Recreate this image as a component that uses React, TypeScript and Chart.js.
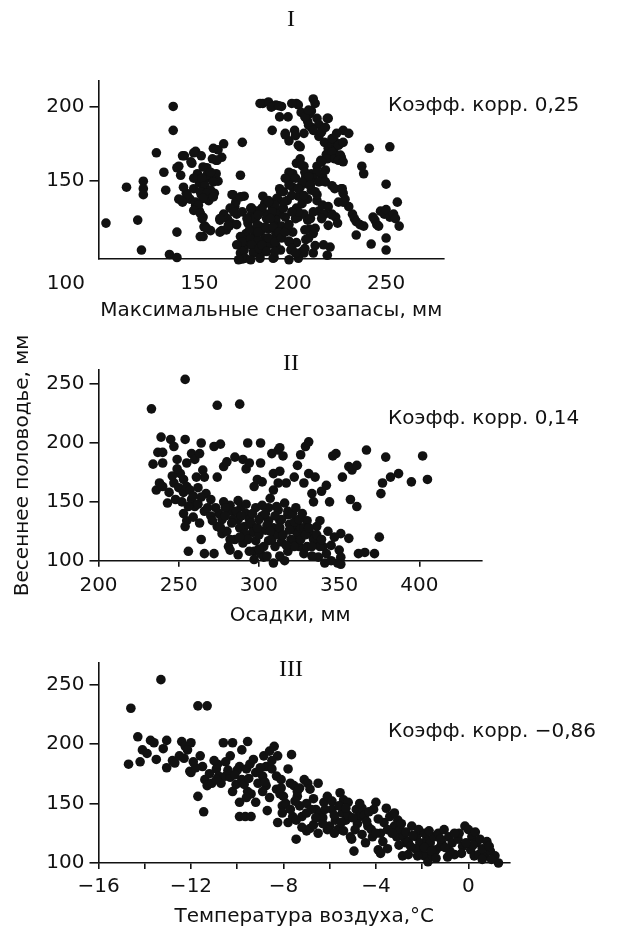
import React, { useEffect, useRef } from 'react';
import { Chart, registerables } from 'chart.js';

Chart.register(...registerables);

const SANS = '"DejaVu Sans", "Liberation Sans", Arial, sans-serif';
const SERIF = '"Liberation Serif", "Times New Roman", serif';
const INK = '#111111';

// ---------- Panel I: max snow storage (mm) vs spring flood (mm) ----------
const snowXTicks = [150, 200, 250];
const snowXLabels = ['150', '200', '250'];
const snowYTicks = [150, 200];
const snowYLabels = ['150', '200'];
const snowPoints: [number, number][] = [
  [100, 122], [111, 146], [117, 124], [119, 104], [120, 150], [120, 145], [120, 141], [127, 169],
  [131, 156], [132, 144], [134, 101], [136, 200], [136, 184], [138, 116], [138, 99], [139, 160],
  [140, 154], [141, 136], [142, 167], [143, 142], [146, 162], [148, 170], [151, 167], [149, 155],
  [150, 149], [152, 147], [153, 151], [154, 159], [148, 134], [151, 141], [152, 126], [153, 120],
  [152, 113], [156, 117], [155, 137], [156, 143], [157, 153], [159, 155], [159, 164], [160, 171],
  [163, 175], [162, 166], [160, 150], [158, 142], [161, 124], [162, 117], [166, 120], [168, 141],
  [169, 133], [170, 128], [172, 154], [173, 176], [174, 140], [172, 107], [172, 102], [173, 98],
  [174, 104], [175, 115], [176, 122], [178, 128], [180, 115], [183, 117], [180, 106], [183, 102],
  [185, 105], [184, 202], [187, 203], [189, 200], [191, 201], [189, 184], [193, 193], [194, 200],
  [202, 202], [203, 201], [196, 181], [198, 177], [201, 184], [204, 173], [206, 182], [208, 190],
  [209, 195], [210, 197], [211, 205], [212, 202], [210, 186], [213, 192], [214, 188], [219, 192],
  [214, 180], [217, 176], [219, 172], [221, 174], [223, 176], [225, 175], [218, 168], [220, 166],
  [222, 170], [226, 166], [227, 184], [230, 182], [226, 164], [215, 164], [213, 160], [210, 155],
  [208, 148], [206, 160], [207, 153], [204, 146], [205, 140], [198, 150], [200, 146], [195, 143],
  [197, 137], [187, 137], [189, 133], [193, 128], [191, 130], [185, 135], [191, 124], [194, 120],
  [191, 115], [189, 111], [191, 107], [190, 99], [202, 132], [203, 126], [206, 128], [208, 124],
  [209, 118], [211, 115], [207, 111], [212, 107], [211, 102], [213, 137], [214, 130], [216, 134],
  [217, 128], [200, 116], [202, 109], [205, 103], [206, 102], [210, 144], [213, 141], [216, 153],
  [217, 150], [221, 147], [219, 133], [221, 128], [220, 106], [223, 126], [224, 122], [226, 145],
  [227, 142], [228, 138], [230, 133], [232, 128], [233, 125], [234, 123], [236, 121], [238, 120],
  [234, 114], [237, 160], [238, 155], [241, 172], [243, 126], [244, 124], [245, 121], [246, 120],
  [242, 108], [247, 130], [249, 128], [250, 131], [250, 148], [250, 112], [250, 104], [252, 173],
  [252, 126], [254, 128], [255, 125], [256, 136], [257, 120], [195, 229], [202, 233], [214, 233],
  [178, 132], [180, 125], [182, 120], [184, 110], [186, 125], [187, 118], [188, 108], [190, 120],
  [192, 138], [193, 145], [195, 132], [196, 126], [197, 118], [198, 110], [199, 104], [185, 112],
  [179, 103], [176, 108], [181, 130], [184, 140], [186, 128], [200, 155], [202, 162], [204, 165],
  [198, 156], [205, 135], [203, 140], [208, 138], [165, 125], [167, 122], [163, 128], [170, 121],
  [172, 113], [175, 110], [177, 118], [145, 138], [147, 145], [150, 130], [147, 152],
  [157.5, 172], [157, 165], [159.5, 164], [147, 169], [141, 167], [145.5, 163], [138, 159],
  [152, 159.5], [154, 154], [156, 156], [151.5, 152], [153, 147], [157.5, 149.5], [156, 144],
  [150.5, 143], [154, 142], [157.5, 139.5], [152, 138.5], [141.5, 146], [143.5, 141], [140.5, 137],
  [139, 138], [148, 136], [149.5, 134], [147, 130.5], [150.5, 128.5], [151.5, 125], [152.5, 119.5],
  [154, 118.5], [150.5, 113], [167.5, 141], [169.5, 136], [172, 139.5], [166.5, 132], [168.5, 129.5],
  [173, 129.5], [177.5, 132], [179, 125], [175.5, 125], [181, 120.5], [161, 125], [164.5, 117.5],
  [161, 116], [165.5, 120.5], [173, 109.5], [177.5, 111.5], [181.5, 110.5], [170, 107.5], [174.5, 98.5],
  [171, 97.5], [178, 107.5], [179, 102], [177.5, 97.5], [182, 105], [182.5, 98.5],
  [182.5, 202], [188.5, 199.5], [192.5, 200.5], [197.5, 193], [199.5, 202], [204.5, 196], [206.5, 193],
  [208.5, 197.5], [196, 182], [201.5, 180.5], [203, 174], [208.5, 187.5], [211, 184], [215.5, 183],
  [218.5, 192], [217.5, 186], [221, 178.5], [223.5, 182], [224.5, 174], [227, 176], [221, 169.5],
  [218.5, 165], [215.5, 163], [222.5, 165], [225.5, 167.5], [217.5, 157.5], [213, 156], [211, 152],
  [214, 149.5], [217.5, 149.5], [224.5, 164], [227, 163], [205, 160.5], [206.5, 156], [208.5, 153],
  [201.5, 152], [205, 149.5], [209.5, 147.5], [212, 143], [203, 145], [206, 140.5], [199.5, 140.5],
  [198, 147.5], [196, 152], [193.5, 143], [195, 136], [191.5, 138.5], [190.5, 134], [189, 129.5],
  [187, 136], [183.5, 132], [181.5, 127.5], [181.5, 116], [185.5, 119.5], [188, 125], [189.5, 119.5],
  [192.5, 116], [187, 112], [190.5, 109.5], [194, 112], [196, 116], [198, 121], [201.5, 125],
  [203, 129.5], [199.5, 129.5], [183.5, 107.5], [186, 103], [189.5, 98.5], [193.5, 104], [198, 109.5],
  [199.5, 105], [203, 98.5], [206.5, 105], [208.5, 112], [206.5, 117.5], [209.5, 125], [211, 129.5],
  [212, 118.5], [215.5, 125], [219, 120.5], [216.5, 107.5], [221, 127.5], [224.5, 136], [222.5, 145],
  [226.5, 145], [227, 136], [218.5, 100.5], [201.5, 102], [198, 97.5], [190.5, 103],
];

// ---------- Panel II: precipitation (mm) vs spring flood (mm) ----------
const precXTicks = [200, 250, 300, 350, 400];
const precXLabels = ['200', '250', '300', '350', '400'];
const precYTicks = [100, 150, 200, 250];
const precYLabels = ['100', '150', '200', '250'];
const precPoints: [number, number][] = [
  [233, 229], [254, 254], [274, 232], [288, 233], [239, 205], [234, 182], [236, 160], [238, 166],
  [240, 163], [237, 192], [240, 192], [240, 183], [245, 203], [247, 197], [249, 186], [254, 203],
  [255, 183], [251, 174], [253, 169], [243, 149], [248, 152], [247, 166], [250, 162], [253, 158],
  [255, 163], [258, 191], [260, 186], [263, 191], [264, 200], [265, 177], [266, 171], [261, 171],
  [258, 152], [260, 146], [253, 140], [255, 134], [254, 129], [259, 137], [263, 132], [264, 118],
  [256, 108], [266, 106], [272, 106], [267, 157], [270, 152], [274, 171], [272, 197], [276, 199],
  [278, 180], [280, 184], [285, 188], [282, 147], [283, 142], [275, 140], [277, 135], [274, 129],
  [277, 123], [281, 112], [282, 109], [287, 105], [290, 186], [292, 178], [293, 200], [301, 200],
  [294, 183], [297, 163], [299, 169], [301, 183], [302, 167], [287, 151], [289, 146], [292, 140],
  [294, 135], [296, 129], [287, 135], [291, 129], [296, 124], [298, 117], [297, 108], [301, 106],
  [297, 101], [303, 103], [307, 153], [309, 160], [312, 166], [308, 191], [312, 194], [313, 196],
  [315, 189], [309, 174], [313, 176], [317, 166], [322, 171], [324, 181], [326, 190], [329, 197],
  [331, 201], [328, 166], [331, 174], [335, 171], [333, 157], [334, 150], [312, 143], [316, 149],
  [318, 139], [313, 134], [319, 131], [322, 126], [306, 134], [309, 128], [311, 123], [306, 117],
  [310, 112], [314, 116], [309, 98], [316, 100], [323, 117], [325, 112], [328, 106], [324, 123],
  [326, 128], [330, 134], [332, 123], [335, 117], [336, 129], [338, 134], [340, 112], [342, 106],
  [337, 103], [341, 98], [339, 159], [342, 164], [344, 150], [346, 189], [348, 191], [352, 171],
  [351, 123], [356, 119], [350, 109], [351, 103], [349, 98], [351, 97], [356, 180], [358, 177],
  [361, 181], [357, 152], [361, 146], [362, 106], [366, 107], [372, 106], [367, 194], [375, 120],
  [376, 157], [377, 166], [379, 188], [382, 171], [387, 174], [395, 167], [402, 189], [405, 169],
  [262, 148], [266, 142], [270, 138], [273, 145], [278, 150], [284, 135], [288, 128], [292, 148],
  [295, 132], [298, 145], [302, 138], [304, 126], [306, 145], [308, 118], [312, 122], [314, 135],
  [318, 142], [320, 118], [322, 133], [325, 135], [328, 128], [330, 112], [334, 118], [338, 112],
  [280, 125], [285, 118], [290, 115], [294, 108], [300, 122], [303, 112], [318, 108], [322, 112],
  [244, 158], [246, 172], [249, 178], [252, 150], [256, 146], [257, 160], [259, 155], [262, 162],
  [264, 154], [268, 145], [271, 134], [276, 128], [279, 145], [283, 132], [286, 142], [289, 138],
  [291, 123], [293, 118], [296, 140], [299, 128], [300, 135], [302, 147], [304, 140], [305, 130],
  [307, 125], [310, 138], [311, 146], [313, 128], [315, 122], [317, 113], [319, 126], [321, 140],
  [323, 145], [326, 118], [327, 140], [329, 122], [331, 128], [333, 112], [336, 122], [339, 118],
  [343, 125], [345, 113], [347, 120], [300, 110], [305, 104], [313, 104], [333, 104], [345, 100],
  [288, 120], [282, 118], [279, 138],
];

// ---------- Panel III: air temperature (°C) vs spring flood (mm) ----------
const tempXTicks = [-16, -14, -12, -10, -8, -6, -4, -2, 0];
const tempXLabels = ['\u221216', '', '\u221212', '', '\u22128', '', '\u22124', '', '0'];
const tempYTicks = [100, 150, 200, 250];
const tempYLabels = ['100', '150', '200', '250'];
const tempPoints: [number, number][] = [
  [-14.7, 183], [-14.6, 230], [-14.3, 206], [-14.2, 185], [-14.1, 195], [-13.9, 192], [-13.75, 203],
  [-13.6, 201], [-13.5, 187], [-13.3, 254], [-13.05, 203], [-13.05, 180], [-12.8, 186], [-12.7, 184],
  [-12.4, 202], [-12.25, 198], [-12.0, 201], [-12.15, 195], [-12.05, 177], [-12.0, 176], [-11.6, 190],
  [-11.7, 232], [-11.3, 232], [-11.7, 156], [-11.45, 143], [-11.5, 181], [-11.4, 170], [-11.3, 165],
  [-11.1, 167], [-10.9, 179], [-10.8, 173], [-10.85, 183], [-10.7, 167], [-10.5, 173], [-10.3, 172],
  [-10.6, 201], [-10.2, 201], [-10.3, 190], [-10.2, 160], [-10.05, 166], [-9.9, 181], [-9.9, 151],
  [-9.8, 170], [-9.9, 139], [-9.65, 139], [-9.4, 139], [-9.55, 202], [-9.8, 195], [-9.6, 179],
  [-9.45, 183], [-9.3, 187], [-9.55, 160], [-9.4, 158], [-9.2, 151], [-9.1, 167], [-8.9, 173],
  [-8.75, 165], [-8.85, 190], [-8.75, 181], [-8.7, 144], [-8.6, 194], [-8.4, 198], [-8.25, 190],
  [-8.5, 179], [-8.3, 173], [-8.3, 162], [-8.15, 158], [-8.0, 156], [-8.05, 148], [-8.25, 134],
  [-8.05, 142], [-7.8, 179], [-7.7, 167], [-7.55, 165], [-7.65, 191], [-7.45, 120], [-7.4, 156],
  [-7.3, 148], [-7.2, 139], [-7.1, 170], [-6.95, 167], [-6.85, 162], [-7.8, 134], [-7.6, 139],
  [-7.45, 136], [-7.0, 127], [-6.85, 129], [-6.7, 132], [-6.6, 145], [-6.4, 142], [-6.5, 167],
  [-6.25, 151], [-6.1, 156], [-6.0, 131], [-5.75, 136], [-5.65, 128], [-5.9, 145], [-5.55, 159],
  [-5.4, 153], [-5.2, 151], [-5.45, 142], [-5.3, 136], [-5.05, 120], [-4.95, 110], [-5.4, 127],
  [-5.1, 122], [-4.85, 145], [-4.7, 139], [-4.6, 146], [-4.45, 117], [-4.35, 131], [-4.15, 122],
  [-4.1, 145], [-4.0, 151], [-3.9, 111], [-3.8, 108], [-3.65, 134], [-3.55, 146], [-3.4, 139],
  [-3.2, 131], [-3.1, 122], [-3.05, 136], [-2.95, 128], [-2.8, 122], [-2.7, 117], [-2.85, 106],
  [-2.6, 107], [-2.45, 131], [-2.25, 122], [-2.15, 128], [-2.1, 117], [-2.0, 111], [-1.9, 106],
  [-1.75, 101], [-1.55, 106], [-1.8, 120], [-1.65, 117], [-1.5, 122], [-1.4, 111], [-1.2, 114],
  [-1.15, 117], [-1.3, 125], [-1.05, 128], [-0.85, 122], [-0.7, 117], [-0.6, 107], [-0.45, 120],
  [-0.25, 114], [-0.15, 131], [0, 128], [0.15, 122], [0.1, 111], [0.25, 106], [0.45, 107],
  [0.35, 117], [0.5, 120], [0.7, 106], [0.8, 118], [0.95, 110], [1.15, 106], [1.3, 100],
  [-10.5, 185], [-10.0, 178], [-9.2, 176], [-8.8, 168], [-8.1, 170], [-7.4, 160], [-7.0, 150],
  [-6.8, 145], [-6.3, 138], [-5.9, 152], [-5.6, 148], [-5.2, 140], [-4.8, 133], [-4.5, 140],
  [-4.2, 128], [-3.8, 125], [-3.5, 128], [-3.0, 115], [-2.6, 118], [-2.3, 112], [-1.9, 125],
  [-1.2, 120], [-0.8, 110], [-0.4, 125], [0.2, 115], [0.6, 112], [-6.5, 125], [-7.2, 130],
  [-9.6, 155], [-11.0, 186], [-12.5, 190], [-13.2, 196], [-11.8, 180],
  [-12.3, 188], [-11.9, 185], [-11.2, 175], [-10.9, 170], [-10.4, 178], [-10.1, 174], [-9.7, 166],
  [-9.5, 171], [-9.0, 180], [-8.9, 160], [-8.6, 155], [-8.5, 186], [-8.1, 163], [-7.9, 150],
  [-7.7, 145], [-7.5, 152], [-7.3, 163], [-7.0, 142], [-6.7, 154], [-6.6, 138], [-6.2, 145],
  [-6.1, 128], [-5.8, 140], [-5.5, 134], [-5.3, 146], [-5.0, 138], [-4.9, 128], [-4.7, 150],
  [-4.4, 135], [-4.3, 143], [-4.0, 125], [-3.9, 137], [-3.7, 118], [-3.3, 125], [-3.2, 142],
  [-2.9, 133], [-2.7, 126], [-2.5, 114], [-2.4, 123], [-2.2, 106], [-1.9, 113], [-1.7, 127],
  [-1.6, 110], [-1.4, 104], [-1.0, 113], [-0.9, 105], [-0.6, 125], [-0.3, 108], [-0.1, 117],
  [0.3, 126], [0.6, 103], [0.9, 114], [1.0, 103], [-3.5, 112], [-4.6, 124], [-5.8, 125], [-6.3, 133],
];

type TextItem = { text: string; x: number; y: number; font: string; align: CanvasTextAlign };

type Panel = {
  top: number;
  height: number;
  area: { top: number; bottom: number; left: number; right: number };
  points: [number, number][];
  xMin: number; xMax: number; yMin: number; yMax: number;
  xTicks: number[]; xLabels: string[]; yTicks: number[]; yLabels: string[];
  xTickLen: number; xTickPad: number;
  xTitle: string; xTitlePad: number;
  yTitle?: string; yTitlePad?: number;
  texts: TextItem[];
};

const TICK_FONT = { family: SANS, size: 20 };
const TITLE_FONT = { family: SANS, size: 20 };
const ROMAN_FONT = `24px ${SERIF}`;
const NOTE_FONT = `20px ${SANS}`;

const panels: Panel[] = [
  {
    top: 0, height: 335,
    area: { top: 81, bottom: 259, left: 98.5, right: 444 },
    points: snowPoints,
    xMin: 96, xMax: 281, yMin: 98, yMax: 217,
    xTicks: snowXTicks, xLabels: snowXLabels, yTicks: snowYTicks, yLabels: snowYLabels,
    xTickLen: 0, xTickPad: 13,
    xTitle: 'Максимальные снегозапасы, мм', xTitlePad: 12,
    texts: [
      { text: 'I', x: 291, y: 20, font: ROMAN_FONT, align: 'center' },
      { text: 'Коэфф. корр. 0,25', x: 388, y: 106, font: NOTE_FONT, align: 'left' },
      { text: '100', x: 85, y: 284, font: NOTE_FONT, align: 'right' },
    ],
  },
  {
    top: 320, height: 320,
    area: { top: 50, bottom: 240.7, left: 98.5, right: 482 },
    points: precPoints,
    xMin: 200, xMax: 439, yMin: 100, yMax: 262,
    xTicks: precXTicks, xLabels: precXLabels, yTicks: precYTicks, yLabels: precYLabels,
    xTickLen: 6, xTickPad: 7,
    xTitle: 'Осадки, мм', xTitlePad: 12,
    yTitle: 'Весеннее половодье, мм', yTitlePad: 11,
    texts: [
      { text: 'II', x: 291, y: 44, font: ROMAN_FONT, align: 'center' },
      { text: 'Коэфф. корр. 0,14', x: 388, y: 99, font: NOTE_FONT, align: 'left' },
    ],
  },
  {
    top: 640, height: 293,
    area: { top: 23, bottom: 223, left: 98.5, right: 510 },
    points: tempPoints,
    xMin: -16, xMax: 1.8, yMin: 100, yMax: 268,
    xTicks: tempXTicks, xLabels: tempXLabels, yTicks: tempYTicks, yLabels: tempYLabels,
    xTickLen: 6, xTickPad: 6,
    xTitle: 'Температура воздуха,°C', xTitlePad: 4,
    texts: [
      { text: 'III', x: 291, y: 30, font: ROMAN_FONT, align: 'center' },
      { text: 'Коэфф. корр. \u22120,86', x: 388, y: 92, font: NOTE_FONT, align: 'left' },
    ],
  },
];

const W = 623;

function buildChart(canvas: HTMLCanvasElement, p: Panel): Chart {
  const textPlugin = {
    id: 'panelText',
    afterDraw(chart: Chart) {
      const ctx = chart.ctx;
      ctx.save();
      ctx.fillStyle = INK;
      ctx.textBaseline = 'middle';
      for (const t of p.texts) {
        ctx.font = t.font;
        ctx.textAlign = t.align;
        ctx.fillText(t.text, t.x, t.y);
      }
      ctx.restore();
    },
  };

  return new Chart(canvas, {
    type: 'scatter',
    data: {
      datasets: [
        {
          data: p.points.map(([x, y]) => ({ x, y })),
          backgroundColor: INK,
          borderColor: INK,
          borderWidth: 0,
          pointRadius: 4.8,
          pointHoverRadius: 4.8,
          clip: false as any,
        },
      ],
    },
    options: {
      animation: false,
      responsive: false,
      devicePixelRatio: 1,
      events: [],
      layout: {
        padding: { top: p.area.top, right: W - p.area.right, left: 0, bottom: 0 },
      },
      plugins: {
        legend: { display: false },
        tooltip: { enabled: false },
      },
      scales: {
        x: {
          type: 'linear',
          min: p.xMin,
          max: p.xMax,
          afterBuildTicks: (s: any) => {
            s.ticks = p.xTicks.map((v) => ({ value: v }));
          },
          afterFit: (s: any) => {
            s.height = p.height - p.area.bottom;
          },
          grid: {
            display: p.xTickLen > 0,
            drawOnChartArea: false,
            drawTicks: p.xTickLen > 0,
            tickLength: p.xTickLen,
            color: INK,
            tickColor: INK,
            lineWidth: 1.6,
          },
          border: { display: true, color: INK, width: 1.6 },
          ticks: {
            autoSkip: false,
            maxRotation: 0,
            padding: p.xTickPad,
            color: INK,
            font: TICK_FONT,
            callback: (_v: any, i: number) => p.xLabels[i],
          },
          title: {
            display: true,
            text: p.xTitle,
            color: INK,
            font: TITLE_FONT,
            padding: { top: 0, bottom: p.xTitlePad },
          },
        },
        y: {
          type: 'linear',
          min: p.yMin,
          max: p.yMax,
          afterBuildTicks: (s: any) => {
            s.ticks = p.yTicks.map((v) => ({ value: v }));
          },
          afterFit: (s: any) => {
            s.width = p.area.left;
          },
          grid: {
            display: true,
            drawOnChartArea: false,
            drawTicks: true,
            tickLength: 9,
            color: INK,
            tickColor: INK,
            lineWidth: 1.6,
          },
          border: { display: true, color: INK, width: 1.6 },
          ticks: {
            autoSkip: false,
            padding: 5,
            color: INK,
            font: TICK_FONT,
            callback: (_v: any, i: number) => p.yLabels[i],
          },
          title: {
            display: !!p.yTitle,
            text: p.yTitle || '',
            color: INK,
            font: TITLE_FONT,
            padding: { top: p.yTitlePad || 0, bottom: 0 },
          },
        },
      },
    } as any,
    plugins: [textPlugin],
  });
}

function PanelCanvas({ p }: { p: Panel }) {
  const ref = useRef<HTMLCanvasElement | null>(null);
  useEffect(() => {
    if (!ref.current) return;
    const chart = buildChart(ref.current, p);
    return () => chart.destroy();
  }, [p]);
  return (
    <canvas
      ref={ref}
      width={W}
      height={p.height}
      style={{ position: 'absolute', left: 0, top: p.top, width: W, height: p.height }}
    />
  );
}

export default function App() {
  return (
    <div
      style={{
        position: 'absolute',
        left: 0,
        top: 0,
        width: W,
        height: 933,
        background: '#ffffff',
        overflow: 'hidden',
      }}
    >
      {panels.map((p, i) => (
        <PanelCanvas key={i} p={p} />
      ))}
    </div>
  );
}
